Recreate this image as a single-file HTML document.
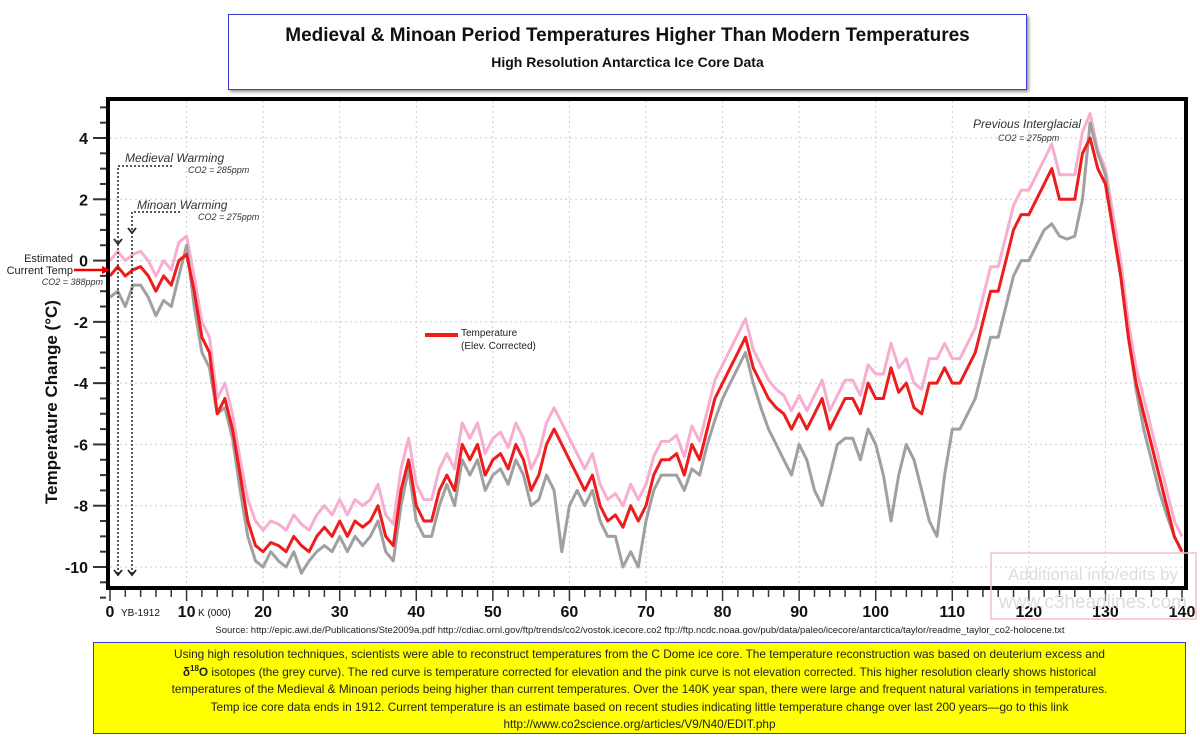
<!DOCTYPE html>
<html><head><meta charset="utf-8"><style>
body{margin:0;width:1200px;height:744px;background:#fff;overflow:hidden;font-family:"Liberation Sans",sans-serif;}
#title{position:absolute;left:228px;top:14px;width:797px;height:74px;border:1px solid #3b3bd0;box-shadow:2px 2px 3px #999;text-align:center;background:#fff}
#title .t1{font-weight:bold;font-size:19px;margin-top:10px;color:#111}
#title .t2{font-weight:bold;font-size:14px;margin-top:7px;color:#111}
#note{position:absolute;left:93px;top:642px;width:1093px;height:92px;background:#ffff00;border:1px solid #3b3bd0;text-align:center;font-size:11.8px;line-height:17.5px;color:#222;padding-top:3px;box-sizing:border-box}
#note sup{font-size:8px;line-height:0}
</style></head><body>
<div id="title">
<div class="t1">Medieval &amp; Minoan Period Temperatures Higher Than Modern Temperatures</div>
<div class="t2">High Resolution Antarctica Ice Core Data</div>
</div>
<svg id="chart" width="1200" height="744" style="position:absolute;left:0;top:0"></svg>
<div id="note">Using high resolution techniques, scientists were able to reconstruct temperatures from the C Dome ice core. The temperature reconstruction was based on deuterium excess and<br><b>δ<sup>18</sup>O</b> isotopes (the grey curve). The red curve is temperature corrected for elevation and the pink curve is not elevation corrected. This higher resolution clearly shows historical<br>temperatures of the Medieval &amp; Minoan periods being higher than current temperatures. Over the 140K year span, there were large and frequent natural variations in temperatures.<br>Temp ice core data ends in 1912. Current temperature is an estimate based on recent studies indicating little temperature change over last 200 years—go to this link<br>http://www.co2science.org/articles/V9/N40/EDIT.php</div>
<script>
const yTicks=[4,2,0,-2,-4,-6,-8,-10];
const xTicks=[0,10,20,30,40,50,60,70,80,90,100,110,120,130,140];
const red=[-0.5,-0.2,-0.5,-0.3,-0.2,-0.5,-1,-0.5,-0.8,0,0.2,-1,-2.5,-3,-5,-4.5,-5.5,-7,-8.5,-9.3,-9.5,-9.2,-9.3,-9.5,-9,-9.3,-9.5,-9,-8.7,-9,-8.5,-9,-8.5,-8.7,-8.5,-8,-9,-9.3,-7.5,-6.5,-8,-8.5,-8.5,-7.5,-7,-7.5,-6,-6.5,-6,-7,-6.5,-6.3,-6.8,-6,-6.5,-7.5,-7,-6,-5.5,-6,-6.5,-7,-7.5,-7,-8,-8.5,-8.3,-8.7,-8,-8.5,-8,-7,-6.5,-6.5,-6.3,-7,-6,-6.5,-5.5,-4.5,-4,-3.5,-3,-2.5,-3.5,-4,-4.5,-4.8,-5,-5.5,-5,-5.5,-5,-4.5,-5.5,-5,-4.5,-4.5,-5,-4,-4.5,-4.5,-3.5,-4.3,-4,-4.8,-5,-4,-4,-3.5,-4,-4,-3.5,-3,-2,-1,-1,0,1,1.5,1.5,2,2.5,3,2,2,2,3.5,4,3,2.5,1,-0.5,-2.5,-4,-5,-6,-7,-8,-9,-9.5];
const pink=[0,0.3,0,0.2,0.3,0,-0.5,0,-0.3,0.6,0.8,-0.5,-2,-2.5,-4.5,-4,-5,-6.5,-7.8,-8.5,-8.8,-8.5,-8.6,-8.8,-8.3,-8.6,-8.8,-8.3,-8,-8.3,-7.8,-8.3,-7.8,-8,-7.8,-7.3,-8.3,-8.6,-6.8,-5.8,-7.3,-7.8,-7.8,-6.8,-6.3,-6.8,-5.3,-5.8,-5.3,-6.3,-5.8,-5.6,-6.1,-5.3,-5.8,-6.8,-6.3,-5.3,-4.8,-5.3,-5.8,-6.3,-6.8,-6.3,-7.3,-7.8,-7.6,-8,-7.3,-7.8,-7.3,-6.4,-5.9,-5.9,-5.7,-6.4,-5.4,-5.9,-4.9,-3.9,-3.4,-2.9,-2.4,-1.9,-2.9,-3.4,-3.9,-4.2,-4.4,-4.9,-4.4,-4.9,-4.4,-3.9,-4.9,-4.4,-3.9,-3.9,-4.4,-3.4,-3.7,-3.7,-2.7,-3.5,-3.2,-4,-4.2,-3.2,-3.2,-2.7,-3.2,-3.2,-2.7,-2.2,-1.2,-0.2,-0.2,0.8,1.8,2.3,2.3,2.8,3.3,3.8,2.8,2.8,2.8,4.2,4.8,3.6,3,1.5,0,-2,-3.5,-4.5,-5.5,-6.5,-7.5,-8.5,-9];
const grey=[-1.2,-1,-1.5,-0.8,-0.8,-1.2,-1.8,-1.3,-1.5,-0.5,0.5,-1.5,-3,-3.5,-5,-4.8,-5.8,-7.5,-9,-9.8,-10,-9.5,-9.8,-10,-9.5,-10.2,-9.8,-9.5,-9.3,-9.5,-9,-9.5,-9,-9.3,-9,-8.5,-9.5,-9.8,-8,-6.8,-8.5,-9,-9,-8,-7.3,-8,-6.5,-7,-6.5,-7.5,-7,-6.8,-7.3,-6.5,-7,-8,-7.8,-7,-7.5,-9.5,-8,-7.5,-8,-7.5,-8.5,-9,-9,-10,-9.5,-10,-8.5,-7.5,-7,-7,-7,-7.5,-6.8,-7,-6,-5.2,-4.5,-4,-3.5,-3,-4,-4.8,-5.5,-6,-6.5,-7,-6,-6.5,-7.5,-8,-7,-6,-5.8,-5.8,-6.5,-5.5,-6,-7,-8.5,-7,-6,-6.5,-7.5,-8.5,-9,-7,-5.5,-5.5,-5,-4.5,-3.5,-2.5,-2.5,-1.5,-0.5,0,0,0.5,1,1.2,0.8,0.7,0.8,2,4.5,3.5,2.8,1,-0.5,-2.5,-4.2,-5.5,-6.5,-7.5,-8.3,-9,-9.5];

const NS='http://www.w3.org/2000/svg';
const svg=document.getElementById('chart');
const X0=110,X1=1182,Y4=138,Y10=567;
const sx=v=>X0+(X1-X0)*v/140;
const sy=v=>Y4+(Y10-Y4)*(4-v)/14;
function mk(tag,attrs,parent){const e=document.createElementNS(NS,tag);for(const k in attrs)e.setAttribute(k,attrs[k]);(parent||svg).appendChild(e);return e;}
function txt(s,attrs){const t=mk('text',attrs);t.textContent=s;return t;}

yTicks.forEach(v=>{const g=mk('line',{x1:110,x2:1185,y1:sy(v),y2:sy(v),stroke:'#ccc','stroke-dasharray':'2,3'});

});
xTicks.slice(1,-1).forEach(v=>{const g=mk('line',{x1:sx(v),x2:sx(v),y1:101,y2:586,stroke:'#ccc','stroke-dasharray':'2,3'});

});

function series(arr,color,w,name){const pts=arr.map((v,i)=>sx(i).toFixed(1)+','+sy(v).toFixed(1)).join(' ');
const p=mk('polyline',{points:pts,fill:'none',stroke:color,'stroke-width':w,'stroke-linejoin':'round'});

}
series(pink,'#f7aed0',3,'pink-curve');
series(grey,'#a0a0a0',3,'grey-curve');
series(red,'#ee1c1c',3,'red-curve');

const fr=mk('rect',{x:108,y:99,width:1078,height:489,fill:'none',stroke:'#000','stroke-width':4});



for(let v=-11;v<=5;v+=0.5){const major=Number.isInteger(v)&&v%2===0;
mk('line',{x1:major?93:100,x2:106,y1:sy(v),y2:sy(v),stroke:'#333','stroke-width':2});}
yTicks.forEach(v=>{const t=txt(String(v),{x:88,y:sy(v)+6,'text-anchor':'end','font-size':16,'font-weight':'bold',fill:'#111'});

});
for(let v=0;v<=140;v+=2){mk('line',{x1:sx(v),x2:sx(v),y1:590,y2:v%10===0?601:597,stroke:'#333','stroke-width':1.5});}
xTicks.forEach(v=>{const t=txt(String(v),{x:sx(v),y:617,'text-anchor':'middle','font-size':16,'font-weight':'bold',fill:'#111'});

});
txt('YB-1912',{x:121,y:616,'font-size':10,fill:'#111'});
txt('K (000)',{x:198,y:616,'font-size':10,fill:'#111'});
const yt=txt('Temperature Change (°C)',{x:0,y:0,'font-size':17,'font-weight':'bold',fill:'#111','text-anchor':'middle',transform:'translate(57,402) rotate(-90)'});


const src=txt('Source: http://epic.awi.de/Publications/Ste2009a.pdf   http://cdiac.ornl.gov/ftp/trends/co2/vostok.icecore.co2   ftp://ftp.ncdc.noaa.gov/pub/data/paleo/icecore/antarctica/taylor/readme_taylor_co2-holocene.txt',{x:640,y:633,'text-anchor':'middle','font-size':9.5,fill:'#222'});



const ann='font-style:italic';
txt('Medieval Warming',{x:125,y:162,'font-size':12,fill:'#333',style:ann});
txt('CO2 = 285ppm',{x:188,y:173,'font-size':9,fill:'#333',style:ann});
txt('Minoan Warming',{x:137,y:209,'font-size':12,fill:'#333',style:ann});
txt('CO2 = 275ppm',{x:198,y:220,'font-size':9,fill:'#333',style:ann});
txt('Previous Interglacial',{x:973,y:128,'font-size':12,fill:'#333',style:ann});
txt('CO2 = 275ppm',{x:998,y:141,'font-size':9,fill:'#333',style:ann});
txt('Estimated',{x:73,y:262,'font-size':11,fill:'#222','text-anchor':'end'});
txt('Current Temp',{x:73,y:274,'font-size':11,fill:'#222','text-anchor':'end'});
txt('CO2 = 388ppm',{x:103,y:285,'font-size':9,fill:'#333','text-anchor':'end',style:ann});
mk('line',{x1:74,x2:104,y1:270,y2:270,stroke:'#e00','stroke-width':2.5});
mk('polygon',{points:'110,270 102,266 102,274',fill:'#e00'});
const dd={stroke:'#222','stroke-width':1.5,'stroke-dasharray':'2,2',fill:'none'};
mk('polyline',Object.assign({points:'172,166 118,166 118,575'},dd));
mk('polyline',Object.assign({points:'180,212 132,212 132,575'},dd));
[[118,244],[132,233],[118,575],[132,575]].forEach(([x,y])=>mk('polyline',{points:`${x-4},${y-5} ${x},${y} ${x+4},${y-5}`,fill:'none',stroke:'#222','stroke-width':1.8}));

const lg=mk('line',{x1:425,x2:458,y1:335,y2:335,stroke:'#ee1c1c','stroke-width':4});


txt('Temperature',{x:461,y:336,'font-size':10,fill:'#222'});
txt('(Elev. Corrected)',{x:461,y:349,'font-size':10,fill:'#222'});

mk('rect',{x:991,y:553,width:205,height:66,fill:'none',stroke:'#f2c0c0','stroke-width':1.5});
txt('Additional info/edits by',{x:1093,y:580,'text-anchor':'middle','font-size':17,fill:'#ddd'});
txt('www.c3headlines.com',{x:1093,y:608,'text-anchor':'middle','font-size':19,fill:'#ddd'});
</script>
</body></html>
